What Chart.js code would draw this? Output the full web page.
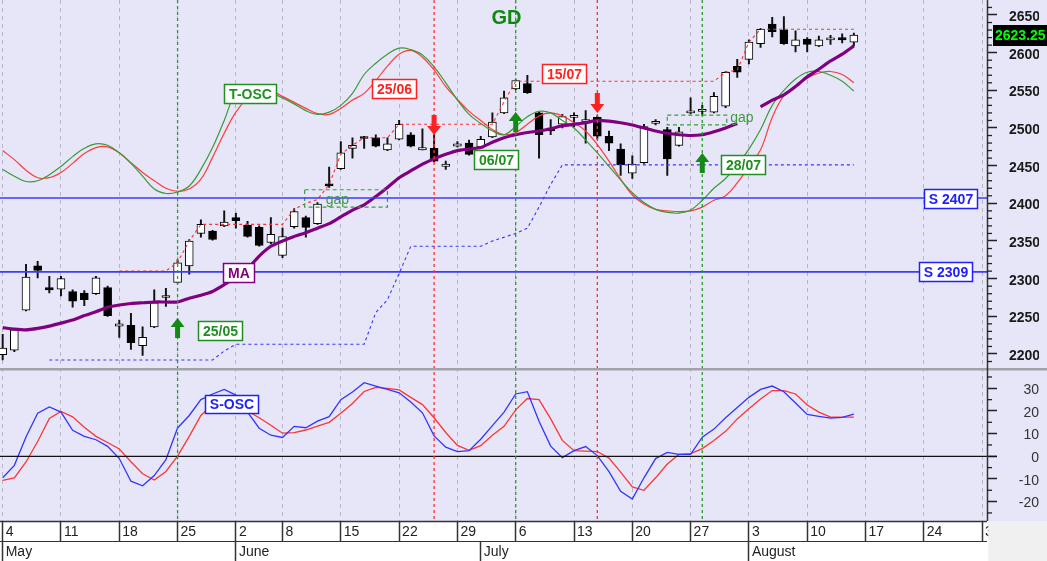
<!DOCTYPE html>
<html><head><meta charset="utf-8">
<script src="https://cdn.jsdelivr.net/npm/chart.js@4.4.0/dist/chart.umd.min.js"></script>
<style>html,body{margin:0;padding:0;background:#fff;overflow:hidden}</style>
</head><body>
<canvas id="c" width="1047" height="561" style="width:1047px;height:561px;display:block"></canvas>
<script>
// ---------------- DATA ----------------
const dates = [
'05-04','05-05','05-06','05-07','05-08','05-11','05-12','05-13','05-14','05-15',
'05-18','05-19','05-20','05-21','05-22','05-25','05-26','05-27','05-28','05-29',
'06-02','06-03','06-04','06-05','06-08','06-09','06-10','06-11','06-12',
'06-15','06-16','06-17','06-18','06-19','06-22','06-23','06-24','06-25','06-26',
'06-29','06-30','07-01','07-02','07-03','07-06','07-07','07-08','07-09','07-10',
'07-13','07-14','07-15','07-16','07-17','07-20','07-21','07-22','07-23','07-24',
'07-27','07-28','07-29','07-30','07-31','08-03','08-04','08-05','08-06','08-07',
'08-10','08-11','08-12','08-13','08-14','08-17','08-18','08-19','08-20','08-21',
'08-24','08-25','08-26','08-27','08-28','08-31'];
const weekStarts = ['05-04','05-11','05-18','05-25','06-02','06-08','06-15','06-22','06-29','07-06','07-13','07-20','07-27','08-03','08-10','08-17','08-24','08-31'];
const monthStarts = ['05-04','06-02','07-01','08-03'];
const monthNames = ['May','June','July','August'];
const priceTicks = [2200,2250,2300,2350,2400,2450,2500,2550,2600,2650];
const oscTicks = [-20,-10,0,10,20,30];

const open  = [2199,2205,2258,2317,2288,2286,2283,2281,2280,2288,2237,2238,2211,2236,2275,2295,2317,2360,2363,2370,2381,2371,2368,2348,2331,2369,2381,2373,2426,2446,2473,2488,2487,2471,2485,2491,2471,2473,2449,2476,2480,2475,2488,2520,2552,2559,2520,2500,2505,2514,2508,2514,2489,2472,2440,2454,2506,2498,2477,2520,2522,2521,2529,2582,2591,2612,2638,2630,2609,2618,2609,2617,2620,2614];
const high  = [2226,2233,2319,2323,2303,2303,2285,2284,2303,2290,2245,2254,2236,2285,2287,2325,2352,2378,2364,2390,2387,2376,2370,2381,2367,2393,2383,2401,2448,2482,2487,2489,2491,2487,2510,2494,2499,2491,2456,2482,2484,2489,2520,2549,2564,2570,2522,2511,2518,2520,2523,2516,2496,2479,2463,2505,2511,2501,2501,2540,2530,2547,2575,2591,2617,2632,2647,2648,2629,2620,2622,2623,2625,2626];
const low   = [2192,2203,2257,2301,2281,2277,2262,2264,2279,2250,2222,2206,2198,2235,2263,2294,2306,2355,2351,2369,2367,2355,2343,2346,2328,2367,2355,2372,2421,2445,2460,2473,2475,2470,2484,2475,2471,2455,2445,2475,2464,2474,2487,2519,2551,2546,2460,2491,2500,2501,2480,2485,2470,2437,2433,2453,2504,2437,2476,2519,2517,2520,2527,2567,2585,2607,2621,2611,2601,2601,2608,2611,2613,2609];
const close = [2208,2232,2302,2311,2285,2300,2270,2272,2301,2251,2240,2215,2222,2268,2277,2321,2350,2372,2352,2375,2377,2356,2344,2359,2356,2389,2368,2399,2423,2467,2477,2486,2476,2479,2505,2476,2474,2456,2452,2479,2465,2485,2508,2540,2563,2547,2491,2496,2515,2516,2511,2489,2480,2451,2452,2502,2509,2459,2495,2522,2524,2542,2574,2574,2614,2631,2628,2612,2617,2611,2617,2618,2617,2623.25];

const movingAvg = [2235,2233,2232,2234,2237,2241,2245,2251,2256,2262,2265,2267,2268,2269,2269,2269,2274,2278,2283,2292,2302,2313,2330,2343,2350,2356,2361,2367,2373,2382,2391,2398,2409,2421,2434,2443,2452,2459,2465,2470,2472,2474,2481,2487,2491,2494,2496,2499,2503,2505,2507,2510,2509,2507,2504,2500,2496,2493,2491,2490,2491,2495,2500,2506,null,2528,2537,2544,2555,2568,2578,2589,2598,2609];
const toscGreen = [2445,2436,2429,2430,2438,2449,2462,2473,2479,2477,2467,2453,2436,2419,2413,2415,2423,2445,2474,2510,2547,2555,2553,2547,2540,2532,2523,2518,2521,2530,2546,2571,2586,2598,2606,2604,2597,2581,2560,2537,2518,2506,2496,2491,2502,2515,2522,2520,2510,2500,2484,2467,2449,2431,2414,2401,2392,2388,2387,2391,2404,2420,2433,2451,2472,2498,2530,2550,2565,2574,2575,2570,2562,2549];
const toscRed = [2470,2458,2444,2434,2434,2441,2453,2466,2474,2475,2467,2454,2441,2430,2420,2416,2419,2432,2461,2493,2521,2540,2551,2550,2542,2534,2526,2519,2518,2526,2537,2546,2563,2582,2598,2603,2594,2577,2555,2538,2522,2510,2498,2491,2494,2505,2516,2520,2516,2507,2496,2478,2456,2432,2411,2399,2392,2390,2389,2390,2395,2404,2410,2427,2449,2471,2514,2543,2555,2566,2573,2575,2571,2560];
const resistance = [null,null,null,null,null,null,null,null,null,null,2310,2310,2310,2310,2310,2322,2350,2372,2372,2372,2372,2372,2372,2372,2372,2392,2400,2405,2425,2465,2477,2487,2487,2487,2505,2505,2505,2505,2505,2505,2505,2505,2505,2535,2562,2562,2562,2562,2562,2562,2562,2562,2562,2562,2562,2562,2562,2562,2562,2562,2562,2562,2574,2577,2614,2631,2631,2631,2631,2631,2631,2631,2631,2631];
const trailStop = [null,null,null,null,2192,2192,2192,2192,2192,2192,2192,2192,2192,2192,2192,2192,2192,2192,2192,2204,2213,2213,2213,2213,2213,2213,2213,2213,2213,2213,2213,2213,2255,2272,2307,2343,2343,2343,2343,2343,2343,2343,2350,2355,2360,2367,2395,2425,2451,2451,2451,2451,2451,2451,2451,2451,2451,2451,2451,2451,2451,2451,2451,2451,2451,2451,2451,2451,2451,2451,2451,2451,2451,2451];
const soscBlue = [-9.5,-4,8.5,19,21.8,19.5,11.5,8.8,7.3,4.4,-1,-11,-13,-8.5,-1.5,12.5,18,25,27.5,29.5,27,19.5,12.4,9.3,8.3,13.2,12.6,15.5,17.5,25,28.4,32.5,31,29.5,28,24,19.2,9,4,2.1,2.5,7.5,13.5,19.5,27.5,28.5,15.5,4.5,-0.6,2.5,4.3,0.3,-6.8,-15.5,-18.9,-9.5,-1,1.7,0.8,0.8,8.4,12,17,21.5,26,29.5,31,28.5,23.5,18.5,17.6,16.8,17.2,18.6];
const soscRed = [-10.6,-9.5,-2.5,6.5,16.7,19.8,17.4,12.8,8.8,6.1,3.2,-2.4,-7.7,-10.5,-6.7,0.1,8.8,18,23,25.5,24,20,17,13.7,10.2,10.4,11.6,13.3,15,19,23.3,28.6,30.4,30,29.3,26,22.8,17,10.5,4.8,2.6,4.7,9.3,13.2,20.5,25.5,25,16.5,7,2.5,2.3,2.1,-0.8,-7,-13.5,-15,-9.5,-3.4,0.8,1.2,3.4,7,11,16.5,21,25.3,29,29,27.5,22.6,19.5,17.3,17.3,17.3];

const supportLevels = [2407, 2309];
const buySignals = [15, 44, 60];
const sellSignals = [37, 51];
const buyArrowTips = [2247.8, 2521.2, 2466.8];
const sellArrowTips = [2490.7, 2519.9];
const gapZones = [{from:25.9, to:33.0, low:2395, high:2418, tx:28.7, ty:2404.4},
                  {from:57.0, to:62.1, low:2504, high:2517, tx:63.4, ty:2513.3}];
const boxLabels = [
  {text:'T-OSC', at:21.2, level:2545.8, color:'#1f8f1f', axis:'y'},
  {text:'25/06', at:33.6, level:2552.4, color:'#ff2020', axis:'y'},
  {text:'15/07', at:48.1, level:2572.3, color:'#ff2020', axis:'y'},
  {text:'06/07', at:42.3, level:2458.8, color:'#1f8f1f', axis:'y'},
  {text:'28/07', at:63.5, level:2450.9, color:'#1f8f1f', axis:'y'},
  {text:'25/05', at:18.6, level:2231.2, color:'#1f8f1f', axis:'y'},
  {text:'MA',    at:20.2, level:2308.8, color:'#800080', axis:'y'},
  {text:'S 2407',at:81.3, level:2407,   color:'#2020ff', axis:'y'},
  {text:'S 2309',at:80.9, level:2309,   color:'#2020ff', axis:'y'},
  {text:'S-OSC', at:19.6, level:23.0,   color:'#2020ff', axis:'y2'}
];
const titleText = {text:'GD', at:43.2, level:2646};

// ---------------- SETUP ----------------
const FAMILY = '"Liberation Sans", Arial, sans-serif';
const BG = '#e6e6f8';
const X_MIN = -0.23, X_MAX = 84.42;
const weekIdx = weekStarts.map(d => dates.indexOf(d));
const weekLbl = weekStarts.map(d => String(parseInt(d.slice(3), 10)));
const monthIdx = monthStarts.map(d => dates.indexOf(d));
const yMinor = []; for (let v = 2190; v <= 2660; v += 10) yMinor.push(v);
const y2Minor = []; for (let v = -25; v <= 35; v += 5) y2Minor.push(v);
const series = arr => arr.map((v, i) => ({x: i, y: v}));

const bodies = open.map((o, i) => ({x: i, y: [o, close[i]]}));
const wicks = low.map((l, i) => ({x: i, y: [l, high[i]]}));
const bodyColors = open.map((o, i) => close[i] >= o ? '#ffffff' : '#000000');

function arrow(ctx, x, y, up, color) {
  const s = up ? 1 : -1, L = 20, hw = 7, hh = 9, sw = 2.5;
  ctx.fillStyle = color;
  ctx.beginPath();
  ctx.moveTo(x, y);
  ctx.lineTo(x + hw, y + s * hh);
  ctx.lineTo(x + sw, y + s * hh);
  ctx.lineTo(x + sw, y + s * L);
  ctx.lineTo(x - sw, y + s * L);
  ctx.lineTo(x - sw, y + s * hh);
  ctx.lineTo(x - hw, y + s * hh);
  ctx.closePath();
  ctx.fill();
}
function tagBox(ctx, cx, cy, text, color, h) {
  ctx.font = 'bold 14px ' + FAMILY;
  const w = Math.round(ctx.measureText(text).width + 9);
  const x = Math.round(cx - w / 2) + 0.5, y = Math.round(cy - h / 2) + 0.5;
  ctx.setLineDash([]);
  ctx.fillStyle = '#ffffff'; ctx.fillRect(x, y, w, h);
  ctx.lineWidth = 1.5; ctx.strokeStyle = color; ctx.strokeRect(x, y, w, h);
  ctx.fillStyle = color; ctx.textAlign = 'center'; ctx.textBaseline = 'middle';
  ctx.fillText(text, x + w / 2, y + h / 2 + 1);
}
function noPad(s) { s.paddingTop = 0; s.paddingBottom = 0; s.paddingLeft = 0; s.paddingRight = 0; }

const decor = {
  id: 'decor',
  beforeDraw(c) {
    const {ctx, chartArea: a} = c;
    ctx.save();
    ctx.fillStyle = '#ffffff'; ctx.fillRect(0, 0, c.width, c.height);
    ctx.fillStyle = BG; ctx.fillRect(0, 0, c.width, a.bottom);
    ctx.restore();
  },
  afterDatasetsDraw(c) {
    const {ctx, chartArea: a, scales} = c;
    const X = v => scales.x.getPixelForValue(v);
    const Y = v => scales.y.getPixelForValue(v);
    const Y2 = v => scales.y2.getPixelForValue(v);
    ctx.save();
    ctx.setLineDash([4, 3]); ctx.strokeStyle = '#3c9c3c'; ctx.lineWidth = 1.2;
    gapZones.forEach(g => {
      const x0 = X(g.from), x1 = X(g.to), y0 = Y(g.high), y1 = Y(g.low);
      ctx.strokeRect(x0, y0, x1 - x0, y1 - y0);
    });
    ctx.setLineDash([]); ctx.strokeStyle = '#3b3bff'; ctx.lineWidth = 1.6;
    supportLevels.forEach(v => { const y = Y(v); ctx.beginPath(); ctx.moveTo(a.left, y); ctx.lineTo(a.right, y); ctx.stroke(); });
    ctx.strokeStyle = '#111'; ctx.lineWidth = 1.3;
    const z = Y2(0); ctx.beginPath(); ctx.moveTo(a.left, z); ctx.lineTo(a.right + 10, z); ctx.stroke();
    ctx.setLineDash([3, 3]); ctx.lineWidth = 1.3;
    ctx.strokeStyle = '#2a9a2a';
    buySignals.forEach(i => { const x = X(i); ctx.beginPath(); ctx.moveTo(x, a.top); ctx.lineTo(x, a.bottom); ctx.stroke(); });
    ctx.strokeStyle = '#ff3030';
    sellSignals.forEach(i => { const x = X(i); ctx.beginPath(); ctx.moveTo(x, a.top); ctx.lineTo(x, a.bottom); ctx.stroke(); });
    ctx.setLineDash([]);
    buySignals.forEach((i, k) => arrow(ctx, X(i), Y(buyArrowTips[k]), true, '#138a13'));
    sellSignals.forEach((i, k) => arrow(ctx, X(i), Y(sellArrowTips[k]), false, '#ff2020'));
    ctx.font = '14px ' + FAMILY; ctx.fillStyle = '#3c9c3c'; ctx.textAlign = 'center'; ctx.textBaseline = 'middle';
    gapZones.forEach(g => ctx.fillText('gap', X(g.tx), Y(g.ty)));
    boxLabels.forEach(b => {
      const yy = b.axis === 'y2' ? Y2(b.level) : Y(b.level);
      tagBox(ctx, X(b.at), yy, b.text, b.color, b.axis === 'y2' ? 18 : 19);
    });
    ctx.font = 'bold 20px ' + FAMILY; ctx.fillStyle = '#0d8a0d'; ctx.textAlign = 'center'; ctx.textBaseline = 'middle';
    ctx.fillText(titleText.text, X(titleText.at), Y(titleText.level));
    ctx.restore();
  },
  afterDraw(c) {
    const {ctx, chartArea: a, scales} = c;
    ctx.save();
    const sep = scales.y.bottom;
    ctx.fillStyle = '#a2a2a8'; ctx.fillRect(0, sep - 1.5, c.width, 2.5);
    ctx.strokeStyle = '#333'; ctx.lineWidth = 1.5;
    ctx.beginPath(); ctx.moveTo(a.right + 0.5, 0); ctx.lineTo(a.right + 0.5, a.bottom); ctx.stroke();
    ctx.lineWidth = 1.3; ctx.strokeStyle = '#222';
    yMinor.filter(v => !priceTicks.includes(v)).forEach(v => {
      const y = scales.y.getPixelForValue(v);
      if (y < scales.y.top || y > scales.y.bottom - 2) return;
      ctx.beginPath(); ctx.moveTo(a.right, y); ctx.lineTo(a.right + 5, y); ctx.stroke();
    });
    y2Minor.filter(v => !oscTicks.includes(v)).forEach(v => {
      const y = scales.y2.getPixelForValue(v);
      if (y < scales.y2.top + 2 || y > scales.y2.bottom) return;
      ctx.beginPath(); ctx.moveTo(a.right, y); ctx.lineTo(a.right + 5, y); ctx.stroke();
    });
    ctx.strokeStyle = '#333'; ctx.lineWidth = 1.5;
    ctx.beginPath(); ctx.moveTo(0, a.bottom + 0.5); ctx.lineTo(a.right, a.bottom + 0.5); ctx.stroke();
    ctx.lineWidth = 1.2;
    ctx.beginPath(); ctx.moveTo(0, scales.x2.top + 0.5); ctx.lineTo(a.right, scales.x2.top + 0.5); ctx.stroke();
    ctx.fillStyle = '#f0f0f0'; ctx.fillRect(a.right + 1.3, a.bottom, c.width - a.right, c.height - a.bottom);
    const last = close[close.length - 1];
    const py = scales.y.getPixelForValue(last);
    ctx.fillStyle = '#000'; ctx.fillRect(a.right + 6, Math.round(py - 10.5), c.width - a.right - 6, 21);
    ctx.font = 'bold 14px ' + FAMILY; ctx.fillStyle = '#00ff00'; ctx.textAlign = 'left'; ctx.textBaseline = 'middle';
    ctx.fillText(last.toFixed(2), a.right + 8, py + 1);
    ctx.restore();
  }
};

const lineBase = {type: 'line', pointRadius: 0, pointHoverRadius: 0, fill: false, xAxisID: 'x'};

new Chart(document.getElementById('c'), {
  type: 'line',
  data: {
    datasets: [
      Object.assign({}, lineBase, {label: 'S-OSC', data: series(soscBlue), yAxisID: 'y2', borderColor: '#3434ff', borderWidth: 1.3, tension: 0, order: 1}),
      Object.assign({}, lineBase, {label: 'S-OSC signal', data: series(soscRed), yAxisID: 'y2', borderColor: '#ff3434', borderWidth: 1.3, tension: 0, order: 1}),
      Object.assign({}, lineBase, {label: 'MA', data: series(movingAvg), yAxisID: 'y', borderColor: '#800080', borderWidth: 3.2, tension: 0.2, spanGaps: false, order: 2}),
      Object.assign({}, lineBase, {label: 'T-OSC', data: series(toscGreen), yAxisID: 'y', borderColor: '#3a9a3a', borderWidth: 1.2, tension: 0.4, order: 3}),
      Object.assign({}, lineBase, {label: 'T-OSC signal', data: series(toscRed), yAxisID: 'y', borderColor: '#ff3b3b', borderWidth: 1.2, tension: 0.4, order: 3}),
      Object.assign({}, lineBase, {label: 'Resistance', data: series(resistance), yAxisID: 'y', borderColor: '#ff3030', borderWidth: 1.1, borderDash: [3, 3], tension: 0, order: 4}),
      Object.assign({}, lineBase, {label: 'Stop', data: series(trailStop), yAxisID: 'y', borderColor: '#3434ff', borderWidth: 1.1, borderDash: [3, 3], tension: 0, order: 4}),
      {type: 'bar', label: 'Body', data: bodies, xAxisID: 'x', yAxisID: 'y', backgroundColor: bodyColors, borderColor: '#000', borderWidth: 1, borderSkipped: false, barThickness: 8, minBarLength: 2, grouped: false, order: 5},
      {type: 'bar', label: 'Wick', data: wicks, xAxisID: 'x', yAxisID: 'y', backgroundColor: '#111', borderWidth: 0, barThickness: 1.3, grouped: false, order: 6}
    ]
  },
  options: {
    responsive: false,
    animation: false,
    events: [],
    layout: {padding: {left: 0, top: 0, bottom: 0, right: 8}},
    plugins: {legend: {display: false}, tooltip: {enabled: false}},
    scales: {
      x: {
        type: 'linear', position: 'bottom', min: X_MIN, max: X_MAX, offset: false,
        afterBuildTicks: s => { s.ticks = weekIdx.map(v => ({value: v})); },
        afterFit: s => { s.height = 20; noPad(s); },
        ticks: {autoSkip: false, maxRotation: 0, minRotation: 0, align: 'start', labelOffset: 3, padding: -17,
                color: '#222', font: {size: 14, family: FAMILY}, callback: (v, i) => weekLbl[i]},
        grid: {display: true, offset: false, drawOnChartArea: true, drawTicks: true, tickLength: 20, color: '#b6b6c6', lineWidth: 1,
               tickColor: '#333', tickWidth: 1.5, tickBorderDash: []},
        border: {display: false, dash: [4, 4]}
      },
      x2: {
        type: 'linear', position: 'bottom', min: X_MIN, max: X_MAX, offset: false,
        afterBuildTicks: s => { s.ticks = monthIdx.map(v => ({value: v})); },
        afterFit: s => { s.height = 20; noPad(s); },
        ticks: {autoSkip: false, maxRotation: 0, minRotation: 0, align: 'start', labelOffset: 3, padding: -17,
                color: '#222', font: {size: 14, family: FAMILY}, callback: (v, i) => monthNames[i]},
        grid: {display: true, offset: false, drawOnChartArea: false, drawTicks: true, tickLength: 20, tickColor: '#333', tickWidth: 1.5, tickBorderDash: []},
        border: {display: false}
      },
      y: {
        type: 'linear', position: 'right', stack: 'panels', stackWeight: 369.5, min: 2179.4, max: 2669.9,
        afterBuildTicks: s => { s.ticks = yMinor.map(v => ({value: v})); },
        afterFit: s => { s.width = 52; noPad(s); },
        ticks: {autoSkip: false, padding: 12, labelOffset: 2, color: '#1a1a1a', font: {size: 14, weight: 'bold', family: FAMILY},
                callback: v => priceTicks.includes(v) ? String(v) : ''},
        grid: {drawOnChartArea: false, drawTicks: true, tickLength: 10, tickWidth: 1.5,
               tickColor: ctx => (ctx.tick && priceTicks.includes(ctx.tick.value)) ? '#222' : 'rgba(0,0,0,0)'},
        border: {display: false}
      },
      y2: {
        type: 'linear', position: 'right', stack: 'panels', stackWeight: 151.5, min: -28.56, max: 38.3,
        afterBuildTicks: s => { s.ticks = y2Minor.map(v => ({value: v})); },
        afterFit: s => { s.width = 52; noPad(s); },
        ticks: {autoSkip: false, padding: 14, crossAlign: 'far', labelOffset: 2, color: '#333', font: {size: 14, family: FAMILY},
                callback: v => oscTicks.includes(v) ? String(v) : ''},
        grid: {drawOnChartArea: false, drawTicks: true, tickLength: 10, tickWidth: 1.5,
               tickColor: ctx => (ctx.tick && oscTicks.includes(ctx.tick.value)) ? '#222' : 'rgba(0,0,0,0)'},
        border: {display: false}
      }
    }
  },
  plugins: [decor]
});
</script>
</body></html>
